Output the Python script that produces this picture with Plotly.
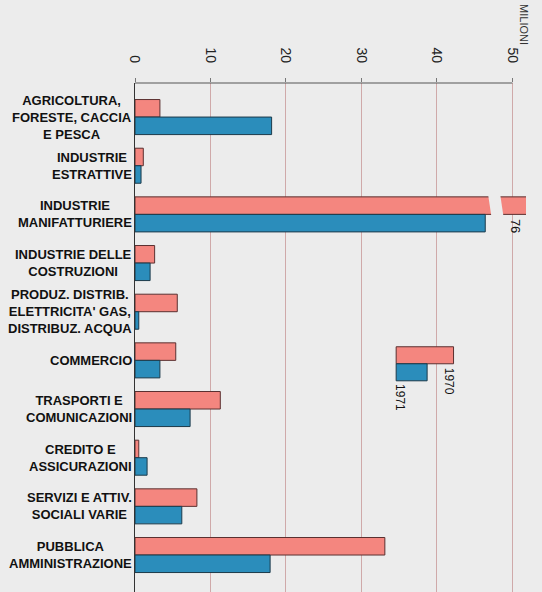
import plotly.graph_objects as go

categories = [
    "AGRICOLTURA,<br>FORESTE, CACCIA<br>E PESCA",
    "INDUSTRIE<br>ESTRATTIVE",
    "INDUSTRIE<br>MANIFATTURIERE",
    "INDUSTRIE DELLE<br>COSTRUZIONI",
    "PRODUZ. DISTRIB.<br>ELETTRICITA' GAS,<br>DISTRIBUZ. ACQUA",
    "COMMERCIO",
    "TRASPORTI E<br>COMUNICAZIONI",
    "CREDITO E<br>ASSICURAZIONI",
    "SERVIZI E ATTIV.<br>SOCIALI VARIE",
    "PUBBLICA<br>AMMINISTRAZIONE",
]
values_1970 = [3.3, 1.1, 76, 2.6, 5.6, 5.4, 11.3, 0.5, 8.2, 33.1]
values_1971 = [18.1, 0.8, 46.4, 2.0, 0.5, 3.3, 7.3, 1.6, 6.2, 17.9]
tick_values = [0, 10, 20, 30, 40, 50]
series_names = ["1970", "1971"]

PINK = "#f4867f"
BLUE = "#2b8dbb"
BG = "#ececec"
FONT = "Liberation Sans, Arial, sans-serif"
X_MAX = 51.8
BREAK_AT = 47.8

idx = list(range(len(categories)))

fig = go.Figure()
fig.add_trace(go.Bar(y=idx, x=values_1970, orientation="h", name=series_names[0],
                     marker=dict(color=PINK, line=dict(color="#5a3030", width=1))))
fig.add_trace(go.Bar(y=idx, x=values_1971, orientation="h", name=series_names[1],
                     marker=dict(color=BLUE, line=dict(color="#1c3a4a", width=1))))

# category labels, centred lines, left of the axis
for i, lab in zip(idx, categories):
    fig.add_annotation(x=0, xref="x", y=i, yref="y", text=f"<b>{lab}</b>", showarrow=False,
                       xanchor="right", align="center", xshift=-1,
                       font=dict(family=FONT, size=13, color="#111"))

# top frame line from 0 to 50
fig.add_shape(type="line", x0=0, x1=tick_values[-1], y0=1, y1=1, xref="x", yref="paper",
              line=dict(color="#555", width=1.2))

# break on the off-scale bar
big = values_1970.index(max(values_1970))
bw = 0.36
fig.add_shape(type="path", xref="x", yref="y",
              path=f"M {BREAK_AT-0.6},{big+0.03} L {BREAK_AT+1.0},{big+0.03} "
                   f"L {BREAK_AT+0.6},{big-bw-0.03} L {BREAK_AT-1.0},{big-bw-0.03} Z",
              fillcolor=BG, line=dict(width=0))
fig.add_annotation(x=X_MAX, y=big, xref="x", yref="y", text=str(max(values_1970)),
                   showarrow=False, textangle=90, xanchor="right", yanchor="top",
                   xshift=-1, yshift=-2, font=dict(family=FONT, size=13, color="#111"))

# hand-drawn style legend
fig.add_shape(type="rect", xref="x", yref="y", x0=34.6, x1=42.2, y0=4.72, y1=5.07,
              fillcolor=PINK, line=dict(color="#5a3030", width=1))
fig.add_shape(type="rect", xref="x", yref="y", x0=34.6, x1=38.7, y0=5.07, y1=5.42,
              fillcolor=BLUE, line=dict(color="#1c3a4a", width=1))
fig.add_annotation(x=41.6, y=5.1, xref="x", yref="y", text=series_names[0], showarrow=False,
                   textangle=90, yanchor="top", xanchor="center",
                   font=dict(family=FONT, size=12, color="#111"))
fig.add_annotation(x=35.2, y=5.45, xref="x", yref="y", text=series_names[1], showarrow=False,
                   textangle=90, yanchor="top", xanchor="center",
                   font=dict(family=FONT, size=12, color="#111"))

fig.add_annotation(x=tick_values[-1], y=1.0, xref="x", yref="paper", text="MILIONI",
                   showarrow=False, textangle=90, xanchor="center", yanchor="bottom",
                   xshift=12, yshift=36, font=dict(family=FONT, size=11, color="#333"))

fig.update_layout(
    width=542, height=592,
    margin=dict(l=135, r=16, t=83, b=0, autoexpand=False),
    paper_bgcolor=BG, plot_bgcolor=BG,
    barmode="group", bargap=0.28, bargroupgap=0,
    showlegend=False,
    xaxis=dict(side="top", range=[0, X_MAX], tickvals=tick_values, tickangle=90,
               showgrid=True, gridcolor="#cfa9a9", gridwidth=1, zeroline=False,
               showline=False, ticks="outside", ticklen=4, tickcolor="#777",
               ticklabelstandoff=10, automargin=False,
               tickfont=dict(family=FONT, size=14, color="#222")),
    yaxis=dict(range=[9.76, -0.7], tickvals=idx, showticklabels=False, showgrid=False,
               zeroline=False, showline=True, linecolor="#333", linewidth=1.2,
               automargin=False),
)

fig.write_html("out.html", config={"displayModeBar": False},
               post_script="document.body.style.margin='0';"
                           f"document.body.style.background='{BG}';")
